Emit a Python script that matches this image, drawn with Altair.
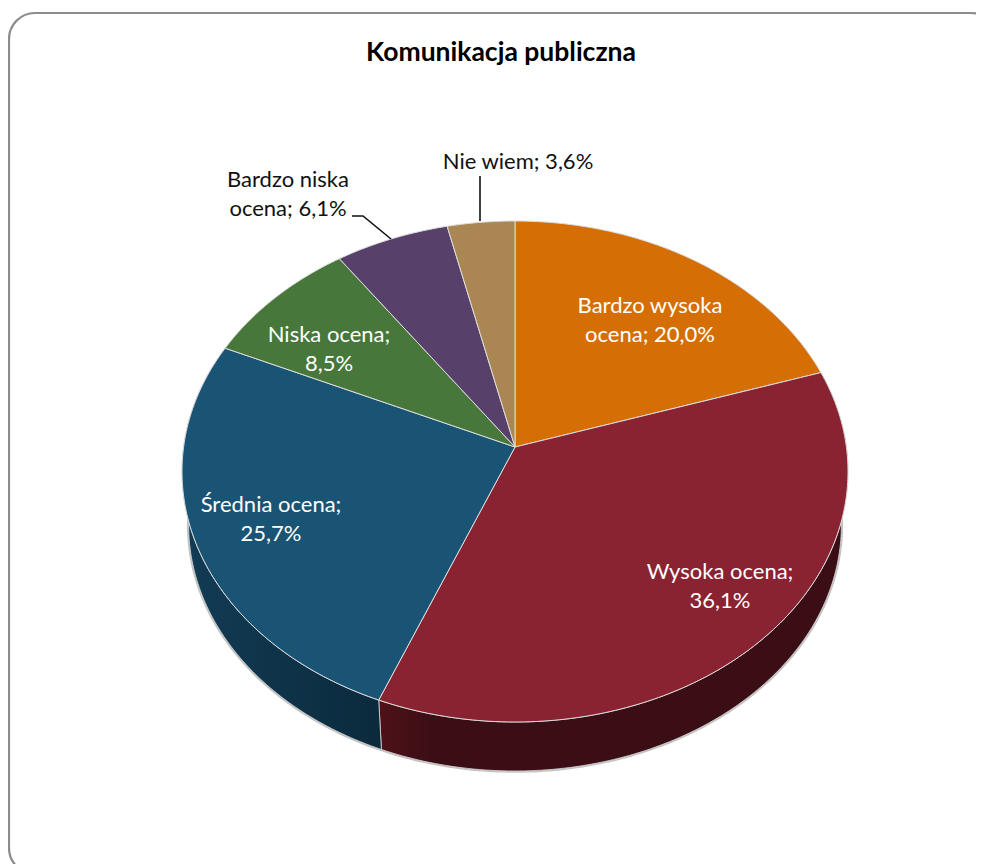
import math
import altair as alt
import pandas as pd

TITLE = "Komunikacja publiczna"
NAMES = ["Bardzo wysoka ocena", "Wysoka ocena", "Średnia ocena", "Niska ocena", "Bardzo niska ocena", "Nie wiem"]
VALUES = [20.0, 36.1, 25.7, 8.5, 6.1, 3.6]
COLORS = ["#d56f05", "#8a2331", "#1a5474", "#47773a", "#574069", "#aa8752"]
LABEL_LINES = [["Bardzo wysoka", "ocena; 20,0%"], ["Wysoka ocena;", "36,1%"], ["Średnia ocena;", "25,7%"],
               ["Niska ocena;", "8,5%"], ["Bardzo niska", "ocena; 6,1%"], ["Nie wiem; 3,6%"]]
LABEL_COLORS = ["white", "white", "white", "white", "#111111", "#111111"]
LABEL_X = [650, 720, 271, 329, 288, 518]
LABEL_Y = [306, 572, 505, 335, 180, 162]
FONT = "Lato"
FS = 22

W, H = 968, 856
xs = alt.Scale(domain=[8, 8 + W], range=[0, W], nice=False, zero=False)
ys = alt.Scale(domain=[8, 8 + H], range=[0, H], nice=False, zero=False)
X = lambda f: alt.X(f, type="quantitative", scale=xs, axis=None)
Y = lambda f: alt.Y(f, type="quantitative", scale=ys, axis=None)


def project(pct, scale=1.0, cy=447.0):
    a = 2 * math.pi * pct / 100
    u, v = math.sin(a), math.cos(a)
    d = 1 + 0.0978 * v
    return 515 + scale * 331.4 * u / d, cy - scale * 248.1 * v / d


def frame_of(pts):
    return pd.DataFrame({"x": [p[0] for p in pts], "y": [p[1] for p in pts], "i": range(len(pts))})


def arc(start, end, scale=1.0, cy=447.0):
    n = max(2, int((end - start) * 4))
    return [project(start + (end - start) * i / n, scale, cy) for i in range(n + 1)]


def wedge(start, end):
    return frame_of([(515.0, 447.0)] + arc(start, end) + [(515.0, 447.0)])


def wall(start, end, scale, cy):
    top = arc(start, end)
    low = arc(start, end, scale, cy)
    return frame_of(top + low[::-1] + [top[0]])


def poly(df, **mark):
    return alt.Chart(df).mark_line(filled=True, interpolate="linear", **mark).encode(
        x=X("x"), y=Y("y"), order=alt.Order("i:Q"))


starts = [sum(VALUES[:i]) for i in range(len(VALUES))]
ends = [s + v for s, v in zip(starts, VALUES)]
layers = []

# frame
frame = pd.DataFrame({"x": [9], "x2": [997], "y": [13], "y2": [874]})
layers.append(alt.Chart(frame).mark_rect(fill="white", stroke="#8c8c8c", strokeWidth=2.2, cornerRadius=26, clip=True).encode(
    x=X("x"), x2="x2", y=Y("y"), y2="y2"))

LOW, LOW_CY = 0.98, 501.5
low_ring = arc(0, 100, LOW, LOW_CY)
layers.append(poly(frame_of(low_ring), fill="white", stroke="#aaaaaa", strokeWidth=3.5, strokeOpacity=0.7))
walls = [
    (1, [(0, "#4f1119"), (0.12, "#3a0e14"), (1, "#3a0e14")]),
    (2, [(0, "#123c55"), (1, "#0b2a3c")]),
]
for idx, stops in walls:
    grad = alt.Gradient(gradient="linear", x1=0, x2=1, y1=0, y2=0,
                        stops=[alt.GradientStop(offset=o, color=c) for o, c in stops])
    layers.append(poly(wall(starts[idx], ends[idx], LOW, LOW_CY), fill=grad, stroke="#d8d8d8", strokeWidth=0.8))
for s, e, c in zip(starts, ends, COLORS):
    layers.append(poly(wedge(s, e), fill=c, stroke="#dcdcdc", strokeWidth=1))

# leader lines
for lx, ly in [([480, 480], [176, 221]), ([352, 363, 391], [216, 216, 239])]:
    df = pd.DataFrame({"x": lx, "y": ly, "i": range(len(lx))})
    layers.append(alt.Chart(df).mark_line(color="#111111", strokeWidth=1.6).encode(
        x=X("x"), y=Y("y"), order=alt.Order("i:Q")))

# labels
rows = []
for lines, c, lx, ly in zip(LABEL_LINES, LABEL_COLORS, LABEL_X, LABEL_Y):
    for k, t in enumerate(lines):
        rows.append({"t": t, "x": lx, "y": ly + k * 29, "c": c})
layers.append(alt.Chart(pd.DataFrame(rows)).mark_text(font=FONT, fontSize=FS, align="center", baseline="middle").encode(
    x=X("x"), y=Y("y"), text="t:N", color=alt.Color("c:N", scale=None)))
layers.append(alt.Chart(pd.DataFrame({"t": [TITLE], "x": [501], "y": [53]})).mark_text(
    font=FONT, fontSize=26.5, fontWeight="bold", align="center", baseline="middle", color="black").encode(
    x=X("x"), y=Y("y"), text="t:N"))

chart = alt.layer(*layers).properties(width=W, height=H, padding=0, autosize=alt.AutoSizeParams(type="none")).configure_view(stroke=None)
chart.save("out.html", embed_options={"renderer": "svg", "actions": False})
